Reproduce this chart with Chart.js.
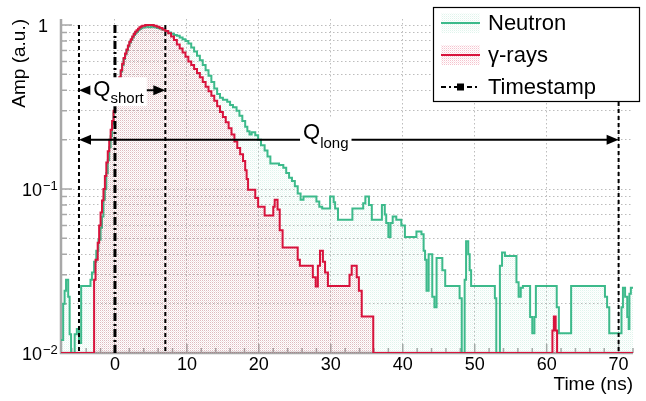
<!DOCTYPE html>
<html>
<head>
<meta charset="utf-8">
<script src="https://cdn.jsdelivr.net/npm/chart.js@4.4.1/dist/chart.umd.min.js"></script>
<style>
  html, body { margin: 0; padding: 0; background: #fff; }
  #wrap { width: 646px; height: 401px; }
</style>
</head>
<body>
<div id="wrap"><canvas id="pulseChart"></canvas></div>
<script>
// === PSD pulse shapes (log amplitude vs time) ===

// step starts (ns) and amplitudes
const neutronTime = [-7.5, -7.2, -7.0, -6.8, -6.5, -6.3, -6.1, -5.6, -5.3, -5.0, -4.7, -3.4, -3.2, -2.9, -2.6, -2.3, -2.0, -1.8, -1.6, -1.4,
    -1.2, -1.0, -0.8, -0.6, -0.4, -0.2, 0.0, 0.2, 0.4, 0.6, 0.8, 1.0, 1.2, 1.4, 1.6, 1.8, 2.0, 2.2, 2.4, 2.6,
    2.8, 3.0, 3.2, 3.4, 3.6, 3.8, 4.2, 4.6, 5.0, 5.4, 5.8, 6.2, 6.6, 7.0, 7.4, 7.8, 8.2, 8.6, 9.0, 9.4,
    9.8, 10.2, 10.6, 11.0, 11.4, 11.8, 12.2, 12.6, 13.0, 13.4, 13.8, 14.2, 14.6, 15.0, 15.6, 16.0, 16.4, 16.9, 17.3, 17.7,
    18.1, 18.4, 18.7, 19.0, 19.5, 19.9, 20.3, 20.8, 21.2, 21.6, 22.8, 23.4, 23.8, 24.2, 24.6, 25.0, 25.4, 25.8, 26.2, 28.0,
    28.4, 28.8, 29.9, 30.4, 30.6, 31.0, 33.0, 34.5, 34.8, 35.3, 35.7, 37.1, 37.5, 37.7, 38.0, 38.3, 38.6, 39.1, 39.8, 40.3,
    41.9, 42.6, 42.9, 43.1, 43.3, 43.6, 44.1, 44.4, 44.7, 45.5, 45.9, 47.9, 48.2, 48.6, 48.8, 49.1, 49.3, 49.5, 52.8, 53.0,
    53.5, 53.8, 54.2, 55.8, 56.1, 56.4, 56.7, 57.7, 58.0, 58.3, 58.5, 61.4, 61.7, 63.4, 68.1, 68.4, 68.7, 70.4, 70.6, 70.9,
    71.2, 71.4, 71.5, 71.7, 72.0];
const neutronAmp = [0.012, 0.02, 0.024, 0.028, 0.022, 0.013, 0.005, 0.013, 0.014, 0.0115, 0.0256, 0.028, 0.031, 0.036, 0.042, 0.049, 0.058, 0.068, 0.086, 0.10,
    0.125, 0.15, 0.18, 0.21, 0.25, 0.29, 0.33, 0.37, 0.42, 0.47, 0.52, 0.57, 0.62, 0.66, 0.70, 0.74, 0.78, 0.81, 0.84, 0.87,
    0.89, 0.91, 0.93, 0.945, 0.955, 0.965, 0.975, 0.968, 0.975, 0.97, 0.96, 0.95, 0.935, 0.92, 0.90, 0.885, 0.87, 0.86, 0.84, 0.82,
    0.80, 0.77, 0.73, 0.69, 0.65, 0.61, 0.57, 0.53, 0.49, 0.45, 0.41, 0.38, 0.36, 0.35, 0.34, 0.325, 0.315, 0.30, 0.28, 0.26,
    0.24, 0.225, 0.215, 0.222, 0.213, 0.20, 0.185, 0.172, 0.158, 0.143, 0.14, 0.135, 0.125, 0.117, 0.112, 0.104, 0.094, 0.086, 0.09, 0.084,
    0.078, 0.076, 0.09, 0.083, 0.076, 0.065, 0.076, 0.082, 0.09, 0.08, 0.065, 0.08, 0.07, 0.062, 0.051, 0.062, 0.068, 0.065, 0.06, 0.051,
    0.055, 0.053, 0.042, 0.037, 0.024, 0.04, 0.022, 0.019, 0.038, 0.032, 0.0256, 0.0216, 0.005, 0.028, 0.048, 0.04, 0.032, 0.0256, 0.0216, 0.005,
    0.034, 0.041, 0.039, 0.027, 0.022, 0.025, 0.0256, 0.0166, 0.0132, 0.0166, 0.0256, 0.019, 0.0132, 0.0256, 0.022, 0.019, 0.0132, 0.019, 0.025, 0.022,
    0.0166, 0.014, 0.023, 0.025, 0.025];

const gammaTime = [-7.5, -2.9, -2.7, -2.4, -2.2, -2.0, -1.8, -1.6, -1.4, -1.2, -1.0, -0.8, -0.6, -0.4, -0.2, 0.0, 0.2, 0.4, 0.6, 0.8,
    1.0, 1.2, 1.4, 1.6, 1.8, 2.0, 2.2, 2.4, 2.6, 2.8, 3.0, 3.2, 3.4, 3.6, 3.8, 4.2, 5.4, 5.8, 6.2, 6.6,
    7.0, 7.4, 7.8, 8.2, 8.6, 9.0, 9.4, 9.8, 10.2, 10.6, 11.0, 11.4, 11.8, 12.2, 12.6, 13.0, 13.4, 13.8, 14.2, 14.6,
    15.0, 15.4, 15.8, 16.2, 16.6, 17.0, 17.4, 17.8, 18.1, 18.3, 18.5, 19.5, 19.9, 20.8, 22.0, 22.2, 22.6, 22.9, 23.3, 25.4,
    25.7, 27.5, 27.9, 28.2, 28.5, 28.9, 29.2, 29.6, 32.6, 32.9, 33.6, 33.9, 34.3, 35.9, 60.8, 61.0, 61.25, 61.45, 72.0];
const gammaAmp = [0.01, 0.028, 0.037, 0.047, 0.06, 0.072, 0.085, 0.10, 0.12, 0.145, 0.17, 0.20, 0.23, 0.26, 0.30, 0.34, 0.38, 0.43, 0.48, 0.53,
    0.58, 0.63, 0.67, 0.71, 0.75, 0.79, 0.82, 0.85, 0.88, 0.91, 0.93, 0.95, 0.97, 0.98, 0.99, 1.0, 0.99, 0.975, 0.96, 0.94,
    0.92, 0.89, 0.85, 0.81, 0.76, 0.72, 0.68, 0.64, 0.60, 0.57, 0.54, 0.51, 0.48, 0.45, 0.42, 0.395, 0.37, 0.345, 0.32, 0.295,
    0.275, 0.255, 0.235, 0.215, 0.195, 0.178, 0.163, 0.148, 0.13, 0.115, 0.099, 0.088, 0.078, 0.069, 0.078, 0.086, 0.075, 0.056, 0.044, 0.037,
    0.034, 0.029, 0.0254, 0.034, 0.042, 0.036, 0.031, 0.0256, 0.03, 0.034, 0.029, 0.024, 0.0167, 0.01, 0.0137, 0.0167, 0.0137, 0.01, 0.01];

const xTickValues = [0, 10, 20, 30, 40, 50, 60, 70];
const yTickValues = [0.01, 0.02, 0.03, 0.04, 0.05, 0.06, 0.07, 0.08, 0.09,
    0.1, 0.2, 0.3, 0.4, 0.5, 0.6, 0.7, 0.8, 0.9, 1];
const yLabelValues = [1, 0.1, 0.01];
const yLabelBase = ['1', '10', '10'];
const yLabelExp = ['', '\u22121', '\u22122'];

// integration gates (ns): window start, timestamp, short end, long end
const gateStart = -5;
const gateStamp = 0;
const gateShort = 7;
const gateLong = 70;

const FONT = "'Liberation Sans', Arial, Helvetica, sans-serif";
const neutronColor = '#3dba8b';
const gammaColor = '#d8133c';

function makeHatch(rgb, a1, a2) {
    const tile = document.createElement('canvas');
    tile.width = 2;
    tile.height = 2;
    const g = tile.getContext('2d');
    g.fillStyle = 'rgba(' + rgb + ',' + a1 + ')';
    g.fillRect(0, 0, 1, 1);
    g.fillStyle = 'rgba(' + rgb + ',' + a2 + ')';
    g.fillRect(1, 1, 1, 1);
    return g.createPattern(tile, 'repeat');
}

const neutronHatch = makeHatch('61,186,139', 0.16, 0.06);
const gammaHatch = makeHatch('216,19,60', 0.26, 0.1);

function toPoints(xs, ys) {
    return xs.map((x, i) => ({ x: x, y: ys[i] }));
}

function arrowHead(ctx, x, y, dir) {
    ctx.beginPath();
    ctx.moveTo(x, y);
    ctx.lineTo(x + dir * 12, y - 5);
    ctx.lineTo(x + dir * 12, y + 5);
    ctx.closePath();
    ctx.fill();
}

function gateLabel(ctx, cx, y, sub, qOff, subOff, boxTop, boxBot) {
    ctx.font = '22px ' + FONT;
    const qw = ctx.measureText('Q').width;
    ctx.font = '15px ' + FONT;
    const sw = ctx.measureText(sub).width;
    const w = qw + sw + 6;
    const left = cx - w / 2;
    ctx.fillStyle = '#fff';
    ctx.fillRect(left, y + boxTop, w, boxBot - boxTop);
    ctx.fillStyle = '#000';
    ctx.textAlign = 'left';
    ctx.textBaseline = 'alphabetic';
    ctx.font = '22px ' + FONT;
    ctx.fillText('Q', left + 3, y + qOff);
    ctx.font = '15px ' + FONT;
    ctx.fillText(sub, left + 3 + qw, y + subOff);
}

const rootStyle = {
    id: 'rootStyle',
    beforeDatasetsDraw(chart) {
        const { ctx, chartArea: a, scales: { x, y } } = chart;
        ctx.save();
        ctx.strokeStyle = '#a8a8a8';
        // inward ticks
        ctx.lineWidth = 1.5;
        ctx.beginPath();
        for (let t = -6; t <= 72; t += 2) {
            const px = x.getPixelForValue(t);
            const len = t % 10 === 0 ? 9 : 5;
            ctx.moveTo(px, a.bottom);
            ctx.lineTo(px, a.bottom - len);
        }
        yTickValues.forEach(v => {
            const py = y.getPixelForValue(v);
            const len = yLabelValues.includes(v) ? 11 : 6;
            ctx.moveTo(a.left, py);
            ctx.lineTo(a.left + len, py);
        });
        ctx.stroke();
        // axis lines
        ctx.lineWidth = 2.5;
        ctx.beginPath();
        ctx.moveTo(a.left, a.top);
        ctx.lineTo(a.left, a.bottom);
        ctx.lineTo(a.right, a.bottom);
        ctx.stroke();
        ctx.restore();
    },
    afterDatasetsDraw(chart) {
        const { ctx, chartArea: a, scales: { x, y } } = chart;
        ctx.save();

        // y tick labels with exponents
        ctx.fillStyle = '#000';
        ctx.textBaseline = 'middle';
        yLabelValues.forEach((v, i) => {
            const py = y.getPixelForValue(v);
            ctx.font = '18px ' + FONT;
            if (yLabelExp[i] === '') {
                ctx.textAlign = 'right';
                ctx.fillText(yLabelBase[i], 48, py + 2);
            } else {
                ctx.textAlign = 'right';
                ctx.fillText(yLabelBase[i], 42, py + 2);
                ctx.font = '13px ' + FONT;
                ctx.textAlign = 'left';
                ctx.fillText(yLabelExp[i], 43, py - 3);
            }
        });

        // gate lines
        const top = y.getPixelForValue(1);
        ctx.strokeStyle = '#000';
        [gateStart, gateShort, gateLong].forEach(t => {
            const px = x.getPixelForValue(t);
            ctx.lineWidth = 2;
            ctx.setLineDash([4, 3]);
            ctx.beginPath();
            ctx.moveTo(px, top);
            ctx.lineTo(px, a.bottom);
            ctx.stroke();
        });
        const p0 = x.getPixelForValue(gateStamp);
        ctx.lineWidth = 3;
        ctx.setLineDash([8, 3, 2, 3]);
        ctx.beginPath();
        ctx.moveTo(p0, top);
        ctx.lineTo(p0, a.bottom);
        ctx.stroke();
        ctx.setLineDash([]);

        // arrows
        ctx.fillStyle = '#000';
        ctx.lineWidth = 2;
        const xs = x.getPixelForValue(gateStart);
        const ySh = y.getPixelForValue(0.4);
        const yLo = y.getPixelForValue(0.2);
        [[x.getPixelForValue(gateShort), ySh], [x.getPixelForValue(gateLong), yLo]].forEach(([xe, py]) => {
            ctx.beginPath();
            ctx.moveTo(xs + 10, py);
            ctx.lineTo(xe - 10, py);
            ctx.stroke();
            arrowHead(ctx, xs, py, 1);
            arrowHead(ctx, xe, py, -1);
        });
        gateLabel(ctx, x.getPixelForValue(0.5), ySh, 'short', 6, 12.5, -13, 16);
        gateLabel(ctx, x.getPixelForValue(29.3), yLo, 'long', -1, 8, -21, 11);

        // legend
        const lx = 433.5, ly = 7.5, lw = 206, lh = 94;
        ctx.fillStyle = '#fff';
        ctx.fillRect(lx, ly, lw, lh);
        ctx.strokeStyle = '#000';
        ctx.lineWidth = 1.2;
        ctx.strokeRect(lx, ly, lw, lh);
        const items = [
            { label: 'Neutron', color: neutronColor, hatch: neutronHatch },
            { label: '\u03b3-rays', color: gammaColor, hatch: gammaHatch },
            { label: 'Timestamp' }
        ];
        items.forEach((it, i) => {
            const yc = 23 + 32 * i;
            if (it.hatch) {
                ctx.fillStyle = it.hatch;
                ctx.fillRect(441, yc - 10, 39, 20);
                ctx.strokeStyle = it.color;
                ctx.lineWidth = 2;
                ctx.beginPath();
                ctx.moveTo(441, yc);
                ctx.lineTo(480, yc);
                ctx.stroke();
            } else {
                ctx.strokeStyle = '#000';
                ctx.lineWidth = 2;
                ctx.setLineDash([5, 3, 2, 3]);
                ctx.beginPath();
                ctx.moveTo(441, yc);
                ctx.lineTo(480, yc);
                ctx.stroke();
                ctx.setLineDash([]);
                ctx.fillStyle = '#000';
                ctx.fillRect(457, yc - 3.5, 7, 7);
            }
            ctx.fillStyle = '#000';
            ctx.font = '22px ' + FONT;
            ctx.textAlign = 'left';
            ctx.textBaseline = 'middle';
            ctx.fillText(it.label, 488, yc + 1);
        });
        ctx.restore();
    }
};

new Chart(document.getElementById('pulseChart'), {
    type: 'line',
    data: {
        datasets: [{
            label: '\u03b3-rays',
            data: toPoints(gammaTime, gammaAmp),
            borderColor: gammaColor,
            backgroundColor: gammaHatch,
            borderWidth: 2,
            fill: 'start',
            stepped: true,
            pointRadius: 0,
            order: 1
        }, {
            label: 'Neutron',
            data: toPoints(neutronTime, neutronAmp),
            borderColor: neutronColor,
            backgroundColor: neutronHatch,
            borderWidth: 2,
            fill: 'start',
            stepped: true,
            pointRadius: 0,
            order: 2
        }]
    },
    options: {
        responsive: true,
        maintainAspectRatio: false,
        animation: false,
        layout: { padding: { top: 19, right: 13, left: 0, bottom: 0 } },
        plugins: {
            legend: { display: false },
            tooltip: { enabled: false }
        },
        scales: {
            x: {
                type: 'linear',
                min: -7.5,
                max: 72,
                afterBuildTicks: s => { s.ticks = xTickValues.map(v => ({ value: v })); },
                afterFit: s => { s.height = 48; },
                grid: { color: '#bdbdbd', lineWidth: 1, drawTicks: false },
                border: { display: false, dash: [1.5, 2.5] },
                ticks: { color: '#000', font: { family: FONT, size: 18 }, padding: 1, maxRotation: 0, autoSkip: false },
                title: { display: true, text: 'Time (ns)', align: 'end', color: '#000', font: { family: FONT, size: 19 }, padding: { top: 5, bottom: 5 } }
            },
            y: {
                type: 'logarithmic',
                min: 0.01,
                max: 1.088,
                afterBuildTicks: s => { s.ticks = yTickValues.map(v => ({ value: v })); },
                afterFit: s => { s.width = 61; },
                grid: { color: '#bdbdbd', lineWidth: 1, drawTicks: false },
                border: { display: false, dash: [1.5, 2.5] },
                ticks: { display: false },
                title: { display: true, text: 'Amp (a.u.)', align: 'end', color: '#000', font: { family: FONT, size: 19 }, padding: { top: 8, bottom: 8 } }
            }
        }
    },
    plugins: [rootStyle]
});
</script>
</body>
</html>
